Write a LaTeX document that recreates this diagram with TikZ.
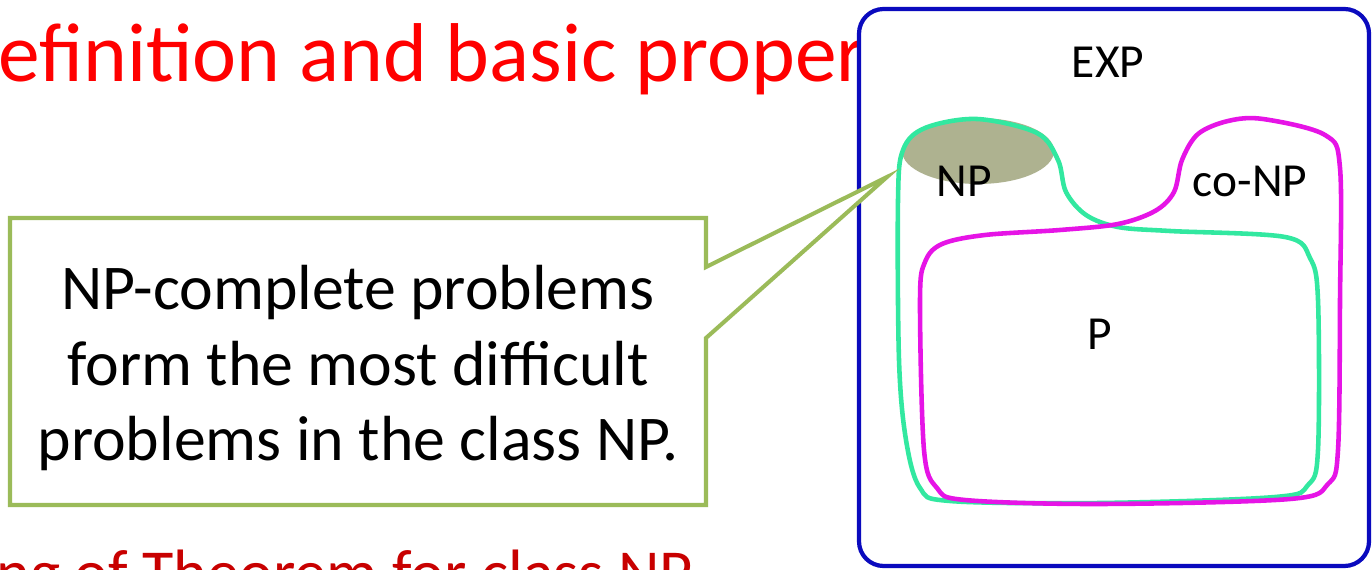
\documentclass[tikz,border=0pt]{standalone}
\usepackage{fontspec}
\setmainfont{Carlito}
\definecolor{titlered}{RGB}{255,0,0}
\definecolor{subred}{RGB}{200,0,0}
\definecolor{calloutgreen}{RGB}{155,187,89}
\definecolor{expblue}{RGB}{10,10,190}
\definecolor{npgreen}{RGB}{50,232,160}
\definecolor{comag}{RGB}{230,20,230}
\definecolor{olive}{RGB}{160,165,125}
\tikzset{
  setlabel/.style={font=\fontsize{27}{31}\selectfont, text=black, inner sep=0pt},
  curve/.style={line width=2.6pt, line join=round},
}
\begin{document}
\begin{tikzpicture}[x=0.02cm,y=-0.02cm]
\useasboundingbox (0,0) rectangle (1372,570);
\clip (0,0) rectangle (1372,570);
\fill[white] (0,0) rectangle (1372,570);
% title, partly hidden
\node[anchor=base west, inner sep=0pt, text=titlered, font=\fontsize{47.5}{52}\selectfont] (title) at (-2,82) {efinition and basic proper};
\node[anchor=base west, inner sep=0pt, text=subred, font=\fontsize{36.5}{42}\selectfont] (sub) at (-4,594) {ng of Theorem for class NP};
% EXP box
\draw[expblue, line width=2.4pt, fill=white, rounded corners=14pt] (859,9) rectangle (1369,566);
\node[setlabel] (exp) at (1108,62) {EXP};
% NP-complete shaded ellipse
\fill[olive, opacity=0.85] (978,151) ellipse [x radius=76, y radius=33];
% NP curve
\draw[npgreen, curve] plot[smooth cycle, tension=0.55] coordinates {
 (977,119) (1037,133) (1058,160) (1066,192) (1086,215) (1118,227) (1170,231)
 (1285,237) (1310,258) (1318,300) (1318,450) (1308,485) (1275,497) (1100,503)
 (950,501) (920,488) (906,440) (899,360) (898,200) (903,150) (925,128)};
% co-NP curve
\draw[comag, curve] plot[smooth cycle, tension=0.55] coordinates {
 (1263,119) (1325,135) (1340,168) (1340,300) (1338,450) (1328,484) (1290,499)
 (1100,504) (965,500) (937,488) (924,450) (920,300) (925,262) (942,244)
 (985,235) (1060,230) (1118,224) (1155,211) (1174,192) (1182,160) (1198,134) (1228,121)};
\node[setlabel] (np) at (964,181) {NP};
\node[setlabel] (conp) at (1250,181) {co-NP};
\node[setlabel] (p) at (1100,334) {P};
% callout
\coordinate (tip) at (887,177);
\draw[calloutgreen, line width=2.3pt, fill=white, line join=miter]
  (10,218) -- (706,218) -- (706,267) -- (tip) -- (706,338) -- (706,505) -- (10,505) -- cycle;
\node[align=center, inner sep=0pt, font=\fontsize{36.3}{43.2}\selectfont] (note) at (358,368)
  {NP-complete problems\\form the most difficult\\problems in the class NP.};
\end{tikzpicture}
\end{document}
